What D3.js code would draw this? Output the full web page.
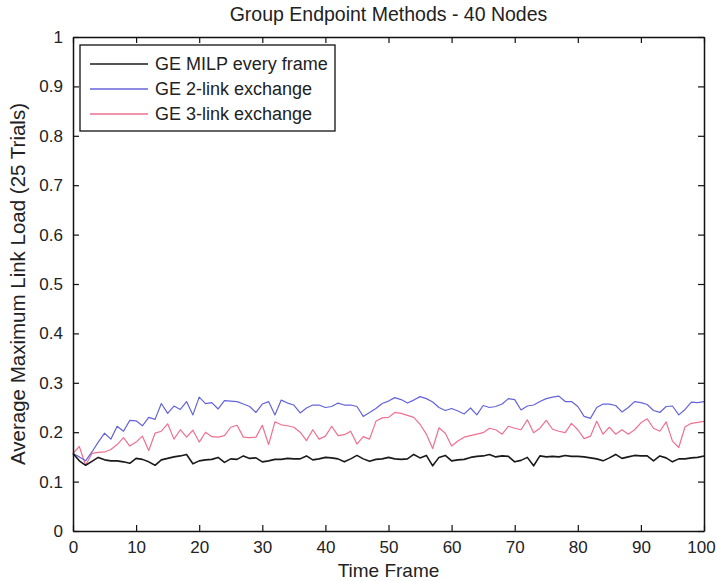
<!DOCTYPE html>
<html>
<head>
<meta charset="utf-8">
<script src="https://cdn.jsdelivr.net/npm/d3@7"></script>
<style>
  body { margin: 0; background: #fff; }
  text { font-family: "Liberation Sans", Arial, sans-serif; fill: #222; }
</style>
</head>
<body>
<svg id="chart"></svg>
<script>
// data (time frames 0..100)
let frames = d3.range(0, 101);

let milpEvery = [0.157,0.142,0.133,0.141,0.149,0.144,0.142,0.142,0.140,0.137,
  0.147,0.145,0.140,0.133,0.144,0.147,0.150,0.152,0.155,0.136,
  0.142,0.144,0.145,0.149,0.139,0.146,0.145,0.152,0.147,0.148,
  0.140,0.142,0.145,0.145,0.147,0.146,0.146,0.152,0.144,0.146,
  0.149,0.148,0.146,0.140,0.146,0.153,0.146,0.141,0.145,0.146,
  0.149,0.146,0.145,0.146,0.155,0.148,0.153,0.132,0.149,0.153,
  0.142,0.144,0.145,0.149,0.151,0.152,0.155,0.150,0.152,0.151,
  0.140,0.143,0.149,0.132,0.152,0.150,0.151,0.150,0.153,0.151,
  0.151,0.150,0.148,0.146,0.142,0.148,0.155,0.147,0.150,0.153,
  0.152,0.152,0.142,0.152,0.148,0.140,0.146,0.146,0.148,0.149,0.152];

let twoLink = [0.157,0.150,0.142,0.160,0.180,0.198,0.186,0.212,0.202,0.224,
  0.223,0.213,0.230,0.226,0.258,0.238,0.253,0.246,0.262,0.235,
  0.271,0.258,0.260,0.247,0.264,0.263,0.262,0.257,0.252,0.240,
  0.257,0.262,0.235,0.265,0.259,0.255,0.239,0.249,0.255,0.255,
  0.250,0.252,0.259,0.255,0.255,0.252,0.232,0.240,0.248,0.258,
  0.263,0.270,0.266,0.259,0.265,0.272,0.268,0.261,0.250,0.244,
  0.248,0.243,0.237,0.249,0.235,0.254,0.250,0.252,0.257,0.268,
  0.266,0.245,0.253,0.255,0.262,0.268,0.271,0.273,0.262,0.262,
  0.252,0.232,0.228,0.250,0.257,0.257,0.254,0.241,0.250,0.262,
  0.260,0.256,0.244,0.240,0.252,0.253,0.235,0.246,0.261,0.260,0.262];

let threeLink = [0.157,0.171,0.133,0.157,0.159,0.160,0.165,0.175,0.189,0.172,
  0.180,0.192,0.163,0.198,0.202,0.217,0.186,0.205,0.190,0.204,
  0.180,0.200,0.191,0.190,0.193,0.210,0.214,0.190,0.189,0.190,
  0.214,0.175,0.221,0.215,0.213,0.210,0.200,0.183,0.205,0.186,
  0.192,0.212,0.193,0.195,0.202,0.176,0.191,0.186,0.222,0.229,
  0.230,0.240,0.238,0.234,0.230,0.216,0.196,0.167,0.209,0.198,
  0.172,0.182,0.190,0.193,0.196,0.199,0.208,0.205,0.196,0.212,
  0.208,0.205,0.225,0.199,0.208,0.224,0.206,0.202,0.199,0.218,
  0.205,0.187,0.192,0.222,0.196,0.210,0.196,0.205,0.196,0.205,
  0.219,0.227,0.208,0.202,0.221,0.182,0.169,0.211,0.218,0.220,0.222];

let seriesNames = ["GE MILP every frame", "GE 2-link exchange", "GE 3-link exchange"];
let seriesColors = ["#1a1a1a", "#6464da", "#f07090"];
let xTicks = [0, 10, 20, 30, 40, 50, 60, 70, 80, 90, 100];
let yTicks = [0, 0.1, 0.2, 0.3, 0.4, 0.5, 0.6, 0.7, 0.8, 0.9, 1];

let W = 717, H = 581;
let margin = {top: 37, right: 13, bottom: 50, left: 73},
    width = W - margin.left - margin.right,
    height = H - margin.top - margin.bottom;

let svg = d3.select("#chart").attr("width", W).attr("height", H);
let g = svg.append("g").attr("transform", "translate(" + margin.left + "," + margin.top + ")");

let x = d3.scaleLinear().domain([0, 100]).range([0, width]);
let y = d3.scaleLinear().domain([0, 1]).range([height, 0]);

// lines
let allSeries = [milpEvery, twoLink, threeLink];
let line = d3.line().x(function(d, i) { return x(frames[i]); }).y(function(d) { return y(d); });

// draw pink, blue, then black on top
[2, 1, 0].forEach(function(k) {
  g.append("path")
    .datum(allSeries[k])
    .attr("fill", "none")
    .attr("stroke", seriesColors[k])
    .attr("stroke-width", k === 0 ? 1.6 : 1.2)
    .attr("stroke-linejoin", "round")
    .attr("d", line);
});

// axes - MATLAB style, ticks inward on all four sides
let tickLen = 6;
g.append("g")
  .attr("class", "x-bottom")
  .attr("transform", "translate(0," + height + ")")
  .call(d3.axisBottom(x).tickValues(xTicks).tickSizeInner(-tickLen).tickSizeOuter(0).tickPadding(10).tickFormat(d3.format("d")));
g.append("g")
  .call(d3.axisTop(x).tickValues(xTicks).tickSizeInner(-tickLen).tickSizeOuter(0).tickFormat(""));
g.append("g")
  .call(d3.axisLeft(y).tickValues(yTicks).tickSizeInner(-tickLen).tickSizeOuter(0).tickPadding(10).tickFormat(function(d) { return d3.format("")(+d.toFixed(1)); }));
g.append("g")
  .attr("transform", "translate(" + width + ",0)")
  .call(d3.axisRight(y).tickValues(yTicks).tickSizeInner(-tickLen).tickSizeOuter(0).tickFormat(""));

g.selectAll(".domain").attr("stroke", "#111").attr("stroke-width", 1.5);
g.selectAll(".tick line").attr("stroke", "#111").attr("stroke-width", 1.2);
g.selectAll(".tick text").style("font-size", "17px").attr("fill", "#222");
// keep the last x label inside the window
g.selectAll(".x-bottom .tick text").filter(function(d) { return d === 100; }).attr("dx", -3);

// titles
svg.append("text")
  .attr("x", margin.left + width / 2)
  .attr("y", 21)
  .attr("text-anchor", "middle")
  .style("font-size", "19.5px")
  .text("Group Endpoint Methods - 40 Nodes");

svg.append("text")
  .attr("x", margin.left + width / 2)
  .attr("y", 577)
  .attr("text-anchor", "middle")
  .style("font-size", "19px")
  .text("Time Frame");

svg.append("text")
  .attr("transform", "translate(25," + (margin.top + height / 2) + ") rotate(-90)")
  .attr("text-anchor", "middle")
  .style("font-size", "20.5px")
  .text("Average Maximum Link Load (25 Trials)");

// legend
let legend = g.append("g").attr("transform", "translate(7,8)");
legend.append("rect")
  .attr("width", 255).attr("height", 86)
  .attr("fill", "#fff").attr("stroke", "#111").attr("stroke-width", 1.3);

let items = legend.selectAll(".item")
  .data(seriesNames)
  .enter().append("g")
  .attr("class", "item")
  .attr("transform", function(d, i) { return "translate(0," + (19 + i * 25) + ")"; });

items.append("line")
  .attr("x1", 10).attr("x2", 68)
  .attr("stroke", function(d, i) { return seriesColors[i]; })
  .attr("stroke-width", 1.3);

items.append("text")
  .attr("x", 75).attr("y", 6)
  .style("font-size", "18px")
  .text(function(d) { return d; });
</script>
</body>
</html>
